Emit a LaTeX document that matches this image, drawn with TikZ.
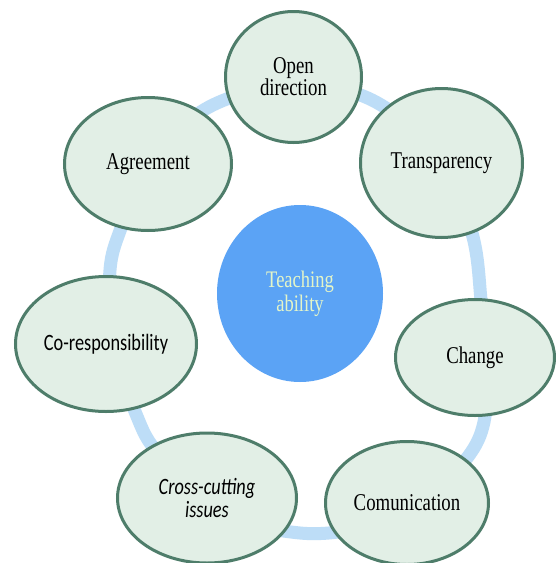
\documentclass[tikz,border=0pt]{standalone}
\usepackage{fontspec}
\usepackage{graphicx}
\setmainfont{Liberation Serif}
\newfontfamily\calib{Carlito}
\usetikzlibrary{shapes.geometric}
\definecolor{ringblue}{HTML}{BDDDF7}
\definecolor{nodefill}{HTML}{E2EFE6}
\definecolor{nodeedge}{HTML}{4E7D6A}
\definecolor{centerblue}{HTML}{5BA3F5}
\definecolor{centertext}{HTML}{E4F5C8}
\newcommand{\vtxt}[1]{\scalebox{1}[1.28]{#1}}
\newcommand{\vtwo}[2]{\scalebox{1}[1.28]{\vbox{\halign{\hfil##\hfil\cr#1\cr#2\cr}}}}
\tikzset{
  item/.style={ellipse, draw=nodeedge, line width=3pt, fill=nodefill, inner sep=0pt,
    font=\fontsize{18.8}{17.3}\selectfont, align=center, text=black},
  sanstext/.style={font=\calib\fontsize{18.3}{18}\selectfont},
  hub/.style={ellipse, fill=centerblue, draw=none, inner sep=0pt,
    font=\fontsize{18.5}{18.5}\selectfont, align=center, text=centertext},
  ring/.style={draw=ringblue, line width=13pt}
}
\begin{document}
\begin{tikzpicture}[x=1pt,y=-1pt]
\useasboundingbox (0,0) rectangle (556,563);
\clip (0,0) rectangle (556,563);
\fill[white] (0,0) rectangle (556,563);
\draw[ring] plot[smooth cycle, tension=0.55] coordinates {
  (292,84) (372,100) (445,160) (473,237) (481,300) (486,370) (484,422) (467,458)
  (420,505) (360,528) (300,533) (230,515) (160,455) (136,414) (112,340) (110,270)
  (121,228) (150,160) (209,107)};
\node[item, minimum width=136pt, minimum height=131pt] (open) at (293.5,77) {\vtwo{Open}{direction}};
\node[item, minimum width=167pt, minimum height=133pt] (agree) at (148,164) {\vtxt{Agreement}};
\node[item, minimum width=162pt, minimum height=149pt] (transp) at (441.5,163) {\vtxt{Transparency}};
\node[item, sanstext, minimum width=181pt, minimum height=135pt] (coresp) at (106,344) {\vtxt{Co-responsibility}};
\node[item, minimum width=159pt, minimum height=116pt] (change) at (475,357.5) {\vtxt{Change}};
\node[item, sanstext, minimum width=179pt, minimum height=130pt] (cross) at (207,498) {\vtwo{\itshape Cross-cutting}{\itshape issues}};
\node[item, minimum width=163pt, minimum height=123pt] (comm) at (407,503) {\vtxt{Comunication}};
\node[hub, minimum width=166pt, minimum height=177pt] (teach) at (300,293.5) {\vtwo{Teaching}{ability}};
\end{tikzpicture}
\end{document}
